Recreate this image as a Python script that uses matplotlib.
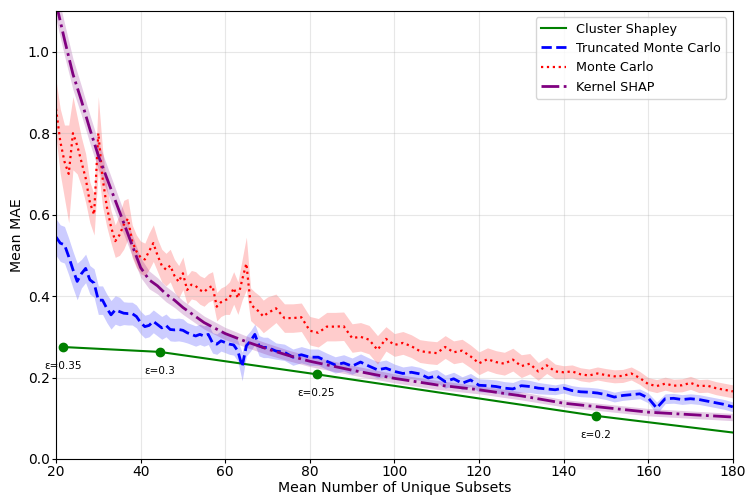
import matplotlib
matplotlib.use("Agg")
import matplotlib.pyplot as plt
import numpy as np

# ----------------------------- Data ------------------------------------------

# dense sampling where the curves move fast, coarser afterwards
x_fine = list(range(20, 71))
x_coarse = list(range(72, 181, 2))
x_sampled = np.array(x_fine + x_coarse, dtype=float)

mc_mean = [
    0.86, 0.78, 0.73, 0.70, 0.80, 0.77, 0.73, 0.69, 0.63, 0.60,
    0.80, 0.69, 0.62, 0.57, 0.535, 0.55, 0.575, 0.59, 0.535, 0.51,
    0.495, 0.49, 0.51, 0.53, 0.50, 0.475, 0.465, 0.475, 0.45, 0.435,
    0.456, 0.415, 0.428, 0.425, 0.415, 0.41, 0.42, 0.425, 0.374, 0.385,
    0.39, 0.395, 0.42, 0.395, 0.44, 0.48, 0.38, 0.37, 0.362, 0.35,
    0.358,
    0.37, 0.346, 0.346, 0.348, 0.315, 0.31, 0.325, 0.325, 0.326, 0.297,
    0.30, 0.293, 0.268, 0.295, 0.28, 0.285, 0.277, 0.265, 0.262, 0.26,
    0.275, 0.262, 0.266, 0.252, 0.235, 0.245, 0.238, 0.234, 0.244, 0.228,
    0.234, 0.215, 0.23, 0.215, 0.213, 0.215, 0.208, 0.205, 0.21, 0.206,
    0.203, 0.204, 0.21, 0.199, 0.184, 0.179, 0.185, 0.18, 0.181, 0.187,
    0.179, 0.18, 0.174, 0.17, 0.166,
]
mc_std = [
    0.07, 0.08, 0.09, 0.12, 0.09, 0.07, 0.06, 0.06, 0.05, 0.05,
    0.09, 0.07, 0.05, 0.04, 0.04, 0.05, 0.06, 0.05, 0.04, 0.04,
    0.04, 0.04, 0.045, 0.045, 0.04, 0.04, 0.04, 0.04, 0.04, 0.04,
    0.04, 0.035, 0.035, 0.035, 0.035, 0.035, 0.035, 0.035, 0.035, 0.035,
    0.035, 0.04, 0.04, 0.04, 0.05, 0.065, 0.04, 0.04, 0.04, 0.04,
    0.04,
    0.035, 0.035, 0.035, 0.035, 0.035, 0.035, 0.035, 0.035, 0.035, 0.035,
    0.035, 0.035, 0.035, 0.03, 0.028, 0.028, 0.028, 0.028, 0.028, 0.028,
    0.028, 0.028, 0.028, 0.028, 0.028, 0.028, 0.028, 0.028, 0.028, 0.028,
    0.025, 0.022, 0.02, 0.018, 0.016, 0.016, 0.016, 0.016, 0.016, 0.016,
    0.016, 0.016, 0.016, 0.016, 0.016, 0.016, 0.016, 0.016, 0.016, 0.016,
    0.016, 0.016, 0.016, 0.016, 0.016,
]

tmc_mean = [
    0.545, 0.53, 0.526, 0.497, 0.465, 0.436, 0.455, 0.468, 0.44, 0.432,
    0.39, 0.39, 0.37, 0.354, 0.366, 0.362, 0.358, 0.357, 0.357, 0.35,
    0.335, 0.325, 0.328, 0.338, 0.33, 0.322, 0.328, 0.318, 0.317, 0.318,
    0.316, 0.31, 0.306, 0.302, 0.306, 0.302, 0.306, 0.285, 0.282, 0.29,
    0.286, 0.282, 0.28, 0.265, 0.227, 0.278, 0.29, 0.306, 0.278, 0.274,
    0.274,
    0.265, 0.262, 0.25, 0.256, 0.25, 0.25, 0.24, 0.231, 0.236, 0.228,
    0.238, 0.228, 0.219, 0.223, 0.215, 0.21, 0.213, 0.209, 0.199, 0.204,
    0.19, 0.197, 0.186, 0.194, 0.181, 0.18, 0.178, 0.174, 0.172, 0.18,
    0.178, 0.174, 0.172, 0.17, 0.174, 0.168, 0.165, 0.164, 0.162, 0.158,
    0.152, 0.156, 0.158, 0.16, 0.15, 0.125, 0.148, 0.149, 0.146, 0.148,
    0.146, 0.142, 0.138, 0.134, 0.128,
]
tmc_std = [
    0.045, 0.045, 0.045, 0.045, 0.045, 0.045, 0.035, 0.035, 0.035, 0.035,
    0.035, 0.035, 0.035, 0.035, 0.035, 0.035, 0.028, 0.028, 0.028, 0.028,
    0.028, 0.028, 0.028, 0.028, 0.028, 0.028, 0.028, 0.028, 0.028, 0.028,
    0.028, 0.025, 0.025, 0.025, 0.025, 0.025, 0.025, 0.025, 0.025, 0.025,
    0.025, 0.025, 0.025, 0.025, 0.035, 0.025, 0.025, 0.025, 0.025, 0.025,
    0.025,
    0.02, 0.02, 0.02, 0.02, 0.02, 0.02, 0.02, 0.02, 0.02, 0.02,
    0.02, 0.02, 0.02, 0.02, 0.018, 0.016, 0.016, 0.016, 0.016, 0.016,
    0.016, 0.016, 0.016, 0.016, 0.016, 0.016, 0.016, 0.016, 0.016, 0.016,
    0.015, 0.014, 0.013, 0.012, 0.012, 0.012, 0.012, 0.012, 0.012, 0.012,
    0.012, 0.012, 0.012, 0.012, 0.012, 0.015, 0.012, 0.012, 0.012, 0.012,
    0.012, 0.012, 0.012, 0.012, 0.012,
]

kernel_x = [20, 22, 24, 26, 28, 30, 32, 34, 36, 38, 40, 42, 44, 46, 48, 50,
            55, 60, 65, 70, 75, 80, 90, 100, 110, 120, 130, 140, 150, 160, 170, 180]
kernel_mean = [1.12, 1.03, 0.945, 0.88, 0.81, 0.745, 0.69, 0.635, 0.58, 0.525,
               0.47, 0.44, 0.425, 0.405, 0.39, 0.372, 0.335, 0.308, 0.288, 0.27,
               0.254, 0.240, 0.218, 0.198, 0.182, 0.170, 0.155, 0.137, 0.126, 0.115,
               0.109, 0.103]
kernel_std = [0.04, 0.04, 0.038, 0.036, 0.035, 0.034, 0.032, 0.03, 0.028, 0.026,
              0.024, 0.022, 0.02, 0.019, 0.018, 0.017, 0.016, 0.015, 0.014, 0.014,
              0.013, 0.013, 0.012, 0.011, 0.011, 0.01, 0.01, 0.009, 0.009, 0.009,
              0.009, 0.009]

cluster_x = [21.6, 44.5, 81.6, 147.6, 214.0]
cluster_mae = [0.275, 0.263, 0.208, 0.106, 0.022]
cluster_eps = ["0.35", "0.3", "0.25", "0.2", "0.15"]


def band(ax, x, mean, std, color, alpha):
    mean = np.asarray(mean)
    std = np.asarray(std)
    ax.fill_between(x, mean - std, mean + std, color=color, alpha=alpha, linewidth=0)


fig, ax = plt.subplots(figsize=(7.47, 5.0), dpi=100)
fig.subplots_adjust(left=0.075, right=0.981, top=0.978, bottom=0.082)

ax.plot(cluster_x, cluster_mae, color="green", linewidth=1.5, label="Cluster Shapley")
ax.plot(cluster_x, cluster_mae, "o", color="green", markersize=6)
for cx, cy, eps in zip(cluster_x, cluster_mae, cluster_eps):
    if cx > 180:
        continue
    ax.annotate(f"ε={eps}", (cx, cy), xytext=(0, -10), textcoords="offset points",
                ha="center", va="top", fontsize=7.5)

band(ax, x_sampled, tmc_mean, tmc_std, "blue", 0.2)
ax.plot(x_sampled, tmc_mean, "--", color="blue", linewidth=2, label="Truncated Monte Carlo")

band(ax, x_sampled, mc_mean, mc_std, "red", 0.2)
ax.plot(x_sampled, mc_mean, ":", color="red", linewidth=1.6, label="Monte Carlo")

band(ax, kernel_x, kernel_mean, kernel_std, "purple", 0.2)
ax.plot(kernel_x, kernel_mean, "-.", color="purple", linewidth=2, label="Kernel SHAP")

ax.set_xlim(20, 180)
ax.set_ylim(0, 1.1)
ax.set_xticks(np.arange(20, 181, 20))
ax.set_yticks([0.0, 0.2, 0.4, 0.6, 0.8, 1.0])
ax.grid(True, alpha=0.3)
ax.set_xlabel("Mean Number of Unique Subsets", fontsize=10.2, labelpad=1)
ax.set_ylabel("Mean MAE", fontsize=10.2, labelpad=3)
ax.tick_params(labelsize=10, pad=1.5, length=3)
ax.legend(loc="upper right", fontsize=9.2)

fig.savefig("out.png", dpi=100)
